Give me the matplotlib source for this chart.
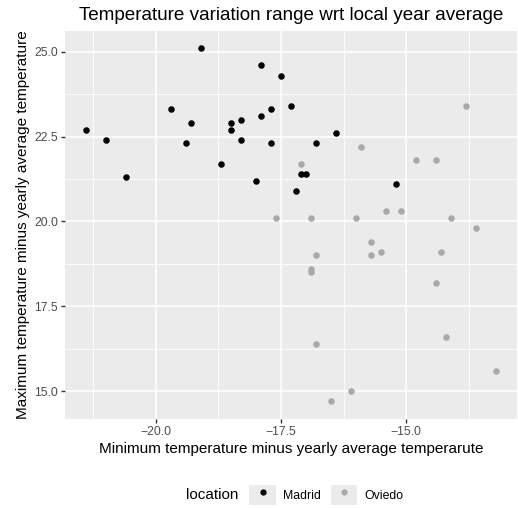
import matplotlib
matplotlib.use("Agg")
import matplotlib.pyplot as plt
from matplotlib.patches import Rectangle
from matplotlib.lines import Line2D
from matplotlib.legend_handler import HandlerTuple

plt.rcParams['font.family'] = ['Liberation Sans', 'DejaVu Sans']

# ---- data ----
madrid_min = [-21.4, -21.0, -20.6, -19.7, -19.3, -19.4, -19.1, -18.7, -18.5, -18.5,
              -18.3, -18.3, -18.0, -17.9, -17.9, -17.7, -17.7, -17.5, -17.3, -16.4,
              -16.8, -17.1, -17.0, -17.2, -15.2]
madrid_max = [22.7, 22.4, 21.3, 23.3, 22.9, 22.3, 25.1, 21.7, 22.9, 22.7,
              23.0, 22.4, 21.2, 24.6, 23.1, 23.3, 22.3, 24.3, 23.4, 22.6,
              22.3, 21.4, 21.4, 20.9, 21.1]

oviedo_min = [-17.6, -17.1, -15.9, -14.8, -14.4, -13.8, -16.9, -16.0, -15.4, -15.1,
              -14.1, -13.6, -15.7, -16.8, -15.7, -15.5, -14.3, -16.9, -16.9, -14.4,
              -14.2, -16.8, -13.2, -16.1, -16.5]
oviedo_max = [20.1, 21.7, 22.2, 21.8, 21.8, 23.4, 20.1, 20.1, 20.3, 20.3,
              20.1, 19.8, 19.4, 19.0, 19.0, 19.1, 19.1, 18.6, 18.5, 18.2,
              16.6, 16.4, 15.6, 15.0, 14.7]

locations = ["Madrid", "Oviedo"]
loc_colors = {"Madrid": "#000000", "Oviedo": "#A9A9A9"}

x_ticks = [-20.0, -17.5, -15.0]
y_ticks = [15.0, 17.5, 20.0, 22.5, 25.0]

# ---- figure ----
fig = plt.figure(figsize=(5.18, 5.08), dpi=100)
ax = fig.add_axes([65/518, 1 - 419/508, 452/518, (419 - 30.7)/508])
ax.set_facecolor('#EBEBEB')
for s in ax.spines.values():
    s.set_visible(False)

ax.scatter(madrid_min, madrid_max, s=22, color=loc_colors["Madrid"], linewidths=0, zorder=3)
ax.scatter(oviedo_min, oviedo_max, s=22, color=loc_colors["Oviedo"], linewidths=0, zorder=3)

ax.set_xticks(x_ticks)
ax.set_yticks(y_ticks)
ax.set_xticks([x - 1.25 for x in x_ticks] + [x_ticks[-1] + 1.25], minor=True)
ax.set_yticks([y - 1.25 for y in y_ticks] + [y_ticks[-1] + 1.25], minor=True)
ax.set_xticklabels([f"{v:.1f}".replace('-', '\u2212') for v in x_ticks])
ax.set_yticklabels([f"{v:.1f}" for v in y_ticks])

# ggplot style limits (5% expansion) - after ticks so they are not widened
allx = madrid_min + oviedo_min
ally = madrid_max + oviedo_max
dx = (max(allx) - min(allx)) * 0.05
dy = (max(ally) - min(ally)) * 0.05
ax.set_xlim(min(allx) - dx, max(allx) + dx)
ax.set_ylim(min(ally) - dy, max(ally) + dy)

ax.grid(which='major', color='white', linewidth=1.1)
ax.grid(which='minor', color='white', linewidth=0.55)
ax.set_axisbelow(True)
ax.tick_params(which='major', length=3, width=1.0, color='#333333',
               labelsize=8.8, labelcolor='#4D4D4D', pad=2)
ax.tick_params(which='minor', length=0)

ax.set_xlabel("Minimum temperature minus yearly average temperarute", fontsize=11, labelpad=3)
ax.set_ylabel("Maximum temperature minus yearly average temperature", fontsize=11, labelpad=3)
ax.set_title("Temperature variation range wrt local year average", fontsize=13.6, pad=8)

# ---- legend at the bottom ----
handles = []
for loc in locations:
    bg = Rectangle((0, 0), 1, 1, facecolor='#EBEBEB', edgecolor='none')
    mk = Line2D([], [], marker='o', linestyle='none', markersize=4.5,
                markerfacecolor=loc_colors[loc], markeredgewidth=0)
    handles.append((bg, mk))
leg = fig.legend(handles, locations, handler_map={tuple: HandlerTuple(ndivide=1)},
                 loc='center', bbox_to_anchor=(326.5/518, 1 - 495/508), ncol=2,
                 frameon=False, fontsize=8.8, handlelength=2.2, handleheight=2.2,
                 handletextpad=0.6, columnspacing=0.75, borderpad=0)
fig.text(238/518, 1 - 495/508, "location", fontsize=11, ha='right', va='center')

fig.savefig("out.png", dpi=100)
